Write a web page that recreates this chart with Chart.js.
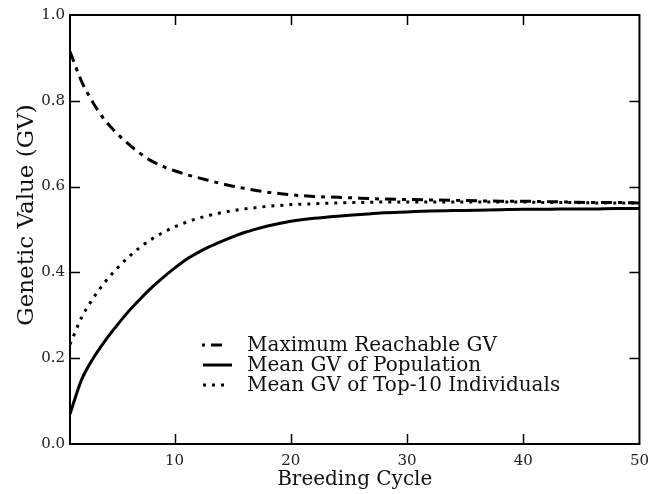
<!DOCTYPE html>
<html>
<head>
<meta charset="utf-8">
<script src="https://cdn.jsdelivr.net/npm/chart.js@4"></script>
<style>
  html, body { margin: 0; padding: 0; background: #fff; }
</style>
</head>
<body>
<canvas id="gv-chart" width="657" height="494"></canvas>
<script>
// breeding cycles sampled
const cycles = [1, 2, 3, 4, 5, 6, 7, 8, 9, 10, 11, 12, 13, 14, 15, 16, 17, 18, 19, 20,
                22, 24, 26, 28, 30, 32, 34, 36, 38, 40, 42, 44, 46, 48, 50];

const maxReachable = [0.915, 0.845, 0.795, 0.755, 0.725, 0.700, 0.678, 0.660, 0.647, 0.637,
                      0.628, 0.621, 0.614, 0.607, 0.601, 0.596, 0.591, 0.587, 0.584, 0.581,
                      0.577, 0.575, 0.573, 0.571, 0.570, 0.569, 0.568, 0.567, 0.566, 0.566,
                      0.565, 0.564, 0.563, 0.563, 0.562];

const meanPopulation = [0.070, 0.150, 0.200, 0.240, 0.275, 0.308, 0.337, 0.364, 0.388, 0.410,
                        0.430, 0.446, 0.460, 0.472, 0.483, 0.493, 0.501, 0.508, 0.514, 0.519,
                        0.526, 0.531, 0.535, 0.539, 0.541, 0.543, 0.544, 0.545, 0.546, 0.547,
                        0.547, 0.548, 0.548, 0.549, 0.549];

const meanTop10 = [0.232, 0.295, 0.340, 0.377, 0.408, 0.435, 0.458, 0.477, 0.493, 0.506,
                   0.517, 0.526, 0.533, 0.539, 0.544, 0.548, 0.551, 0.554, 0.556, 0.558,
                   0.560, 0.562, 0.563, 0.564, 0.564, 0.564, 0.564, 0.564, 0.564, 0.564,
                   0.563, 0.563, 0.562, 0.562, 0.562];

const seriesNames = ['Maximum Reachable GV', 'Mean GV of Population', 'Mean GV of Top-10 Individuals'];
const xTickValues = [10, 20, 30, 40, 50];
const yTickValues = [0, 0.2, 0.4, 0.6, 0.8, 1.0];

const serif = '"DejaVu Serif", "Liberation Serif", serif';

function toPoints(ys) {
    return cycles.map((c, i) => ({ x: c, y: ys[i] }));
}

// frame, inward ticks, y title and legend
const decorations = {
    id: 'decorations',
    afterDraw(chart) {
        const ctx = chart.ctx;
        const { left, right, top, bottom } = chart.chartArea;
        const xs = chart.scales.x, ys = chart.scales.y;
        ctx.save();
        ctx.strokeStyle = '#000';

        ctx.lineWidth = 1.5;
        ctx.beginPath();
        xTickValues.forEach(v => {
            const px = Math.round(xs.getPixelForValue(v)) + 0.5;
            if (px > left + 2 && px < right - 2) {
                ctx.moveTo(px, bottom); ctx.lineTo(px, bottom - 10);
                ctx.moveTo(px, top); ctx.lineTo(px, top + 10);
            }
        });
        yTickValues.forEach(v => {
            const py = Math.round(ys.getPixelForValue(v)) + 0.5;
            if (py > top + 2 && py < bottom - 2) {
                ctx.moveTo(left, py); ctx.lineTo(left + 10, py);
                ctx.moveTo(right, py); ctx.lineTo(right - 10, py);
            }
        });
        ctx.stroke();

        ctx.lineWidth = 2;
        ctx.strokeRect(left, top, right - left, bottom - top);

        // y axis title
        ctx.fillStyle = '#111';
        ctx.font = '23px ' + serif;
        ctx.textAlign = 'center';
        ctx.textBaseline = 'middle';
        ctx.translate(27, 215);
        ctx.rotate(-Math.PI / 2);
        ctx.fillText('Genetic Value (GV)', 0, 0);
        ctx.setTransform(1, 0, 0, 1, 0, 0);

        // legend
        const rows = [345, 365, 385];
        const spans = [[202, 228], [203, 232], [203, 227]];
        ctx.font = '20px ' + serif;
        ctx.textAlign = 'left';
        chart.data.datasets.forEach((ds, i) => {
            ctx.beginPath();
            ctx.lineWidth = ds.borderWidth;
            ctx.setLineDash(ds.borderDash || []);
            ctx.lineDashOffset = i === 0 ? 18 : 0;
            ctx.moveTo(spans[i][0], rows[i]);
            ctx.lineTo(spans[i][1], rows[i]);
            ctx.stroke();
            ctx.setLineDash([]);
            ctx.fillText(ds.label, 247, rows[i] + 1);
        });
        ctx.restore();
    }
};

new Chart(document.getElementById('gv-chart'), {
    type: 'line',
    data: {
        datasets: [
            {
                label: seriesNames[0],
                data: toPoints(maxReachable),
                borderColor: '#000',
                borderWidth: 3,
                borderDash: [11, 6, 4, 6],
                pointRadius: 0,
                cubicInterpolationMode: 'monotone'
            },
            {
                label: seriesNames[1],
                data: toPoints(meanPopulation),
                borderColor: '#000',
                borderWidth: 3,
                pointRadius: 0,
                cubicInterpolationMode: 'monotone'
            },
            {
                label: seriesNames[2],
                data: toPoints(meanTop10),
                borderColor: '#000',
                borderWidth: 3,
                borderDash: [3, 6],
                pointRadius: 0,
                cubicInterpolationMode: 'monotone'
            }
        ]
    },
    options: {
        responsive: false,
        animation: false,
        devicePixelRatio: 1,
        layout: { padding: { left: 0, right: 15, top: 15, bottom: 0 } },
        plugins: {
            legend: { display: false },
            tooltip: { enabled: false }
        },
        scales: {
            x: {
                type: 'linear',
                min: 1,
                max: 50,
                grid: { display: false, drawTicks: false },
                border: { display: false },
                afterBuildTicks: s => { s.ticks = xTickValues.map(v => ({ value: v })); },
                afterFit: s => { s.height = 50; },
                ticks: {
                    color: '#222',
                    padding: 8,
                    maxRotation: 0,
                    font: { family: serif, size: 15 }
                },
                title: {
                    display: true,
                    text: 'Breeding Cycle',
                    color: '#111',
                    padding: { top: 0, bottom: 2 },
                    font: { family: serif, size: 20 }
                }
            },
            y: {
                min: 0,
                max: 1,
                grid: { display: false, drawTicks: false },
                border: { display: false },
                afterBuildTicks: s => { s.ticks = yTickValues.map(v => ({ value: v })); },
                afterFit: s => { s.width = 70; },
                ticks: {
                    color: '#222',
                    padding: 5,
                    font: { family: serif, size: 15 },
                    callback: v => v.toFixed(1)
                }
            }
        }
    },
    plugins: [decorations]
});
</script>
</body>
</html>
